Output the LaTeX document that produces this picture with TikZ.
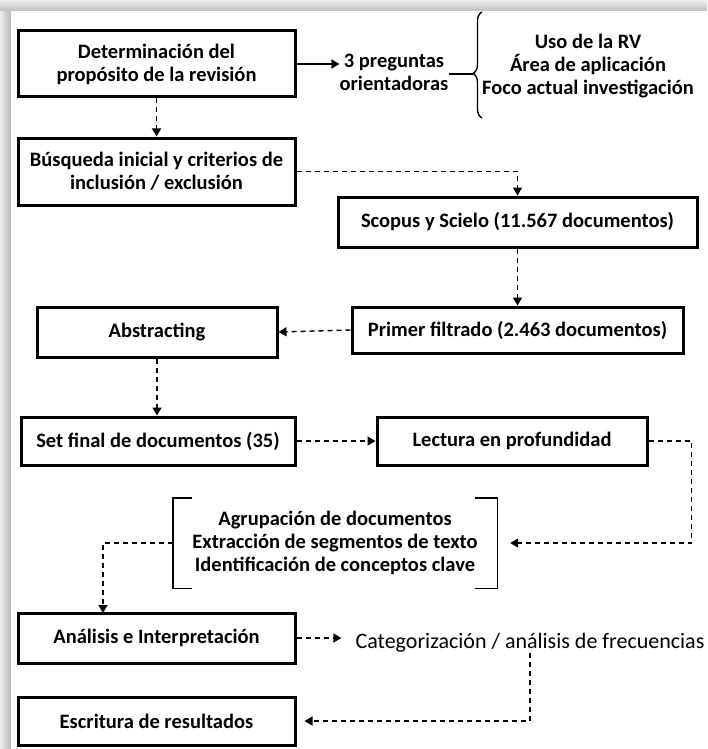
\documentclass[tikz,border=0pt]{standalone}
\usepackage{fontspec}
\setmainfont{Carlito}
\usepackage{tikz}
\usetikzlibrary{arrows.meta,decorations.pathreplacing}

\tikzset{
  paso/.style={draw, line width=3pt, align=center, inner sep=0pt},
  texto/.style={align=center, inner sep=0pt},
  flecha/.style={line width=1.4pt, -{Triangle[width=9pt,length=8pt]}},
  flechad/.style={flecha, dash pattern=on 5pt off 4pt},
}

\begin{document}
\begin{tikzpicture}[x=1pt,y=-1pt,font=\fontsize{20.5}{23}\selectfont\bfseries]
  \useasboundingbox (0,0) rectangle (707,749);
  % frame
  \shade[left color=gray!15, right color=gray!55] (0,0) rectangle (11,749);
  \shade[top color=gray!15, bottom color=gray!50] (0,0) rectangle (707,11);
  \fill[white] (11,11) rectangle (707,749);

  % boxes
  \node[paso, minimum width=277, minimum height=66] (prop) at (156.5,64) {Determinación del\\propósito de la revisión};
  \node[paso, minimum width=277, minimum height=67] (busq) at (156.5,171.5) {Búsqueda inicial y criterios de\\inclusión / exclusión};
  \node[paso, minimum width=359, minimum height=50] (scop) at (517.5,222) {Scopus y Scielo (11.567 documentos)};
  \node[paso, minimum width=331, minimum height=46] (prim) at (517.5,330) {Primer filtrado (2.463 documentos)};
  \node[paso, minimum width=240, minimum height=50] (abst) at (157,332) {Abstracting};
  \node[paso, minimum width=274, minimum height=48] (setf) at (158,441) {Set final de documentos (35)};
  \node[paso, minimum width=270, minimum height=48] (lect) at (512,441) {Lectura en profundidad};
  \node[paso, minimum width=277, minimum height=50] (anal) at (156.5,638) {Análisis e Interpretación};
  \node[paso, minimum width=277, minimum height=48] (escr) at (156.5,721) {Escritura de resultados};

  % plain texts
  \node[texto] (preg) at (394,72) {3 preguntas\\orientadoras};
  \node[texto] (usos) at (588,66) {Uso de la RV\\Área de aplicación\\Foco actual investigación};
  \node[texto, minimum width=324, minimum height=90] (grup) at (335,543) {Agrupación de documentos\\Extracción de segmentos de texto\\Identificación de conceptos clave};
  \node[texto, font=\fontsize{22}{24}\selectfont\mdseries] (cate) at (530,643) {Categorización / análisis de frecuencias};

  % brace and brackets
  \draw[line width=1.4pt, decorate, decoration={brace, amplitude=9pt, aspect=0.42}] (482,118) -- (482,12);
  \coordinate (punta) at (473,74);
  \draw[line width=1.4pt] (grup.north west) ++(19,0) -- (grup.north west) -- (grup.south west) -- ++(19,0);
  \draw[line width=1.4pt] (grup.north east) ++(-22,0) -- (grup.north east) -- (grup.south east) -- ++(-22,0);

  % connectors
  \draw[flecha] (prop.east) -- (prop.east -| preg.west);
  \draw[line width=1.4pt] (preg.east |- punta) -- (punta);
  \draw[flechad] (prop.south) -- (busq.north);
  \draw[flechad] (busq.east) -| (scop.north);
  \draw[flechad] (scop.south) -- (prim.north);
  \draw[flechad] (prim.west) -- (abst.east);
  \draw[flechad] (abst.south) -- (abst.south |- setf.north);
  \draw[flechad] (setf.east) -- (lect.west);
  \draw[flechad] (lect.east) -- ++(43,0) |- ([xshift=13pt]grup.east);
  \coordinate (entrada) at (103,613);
  \draw[flechad] (grup.west) -| (entrada);
  \draw[flechad] (anal.east) -- ([xshift=-14pt]anal.east -| cate.west);
  \draw[flechad] (cate.south) |- ([xshift=8pt]escr.east);
\end{tikzpicture}
\end{document}
